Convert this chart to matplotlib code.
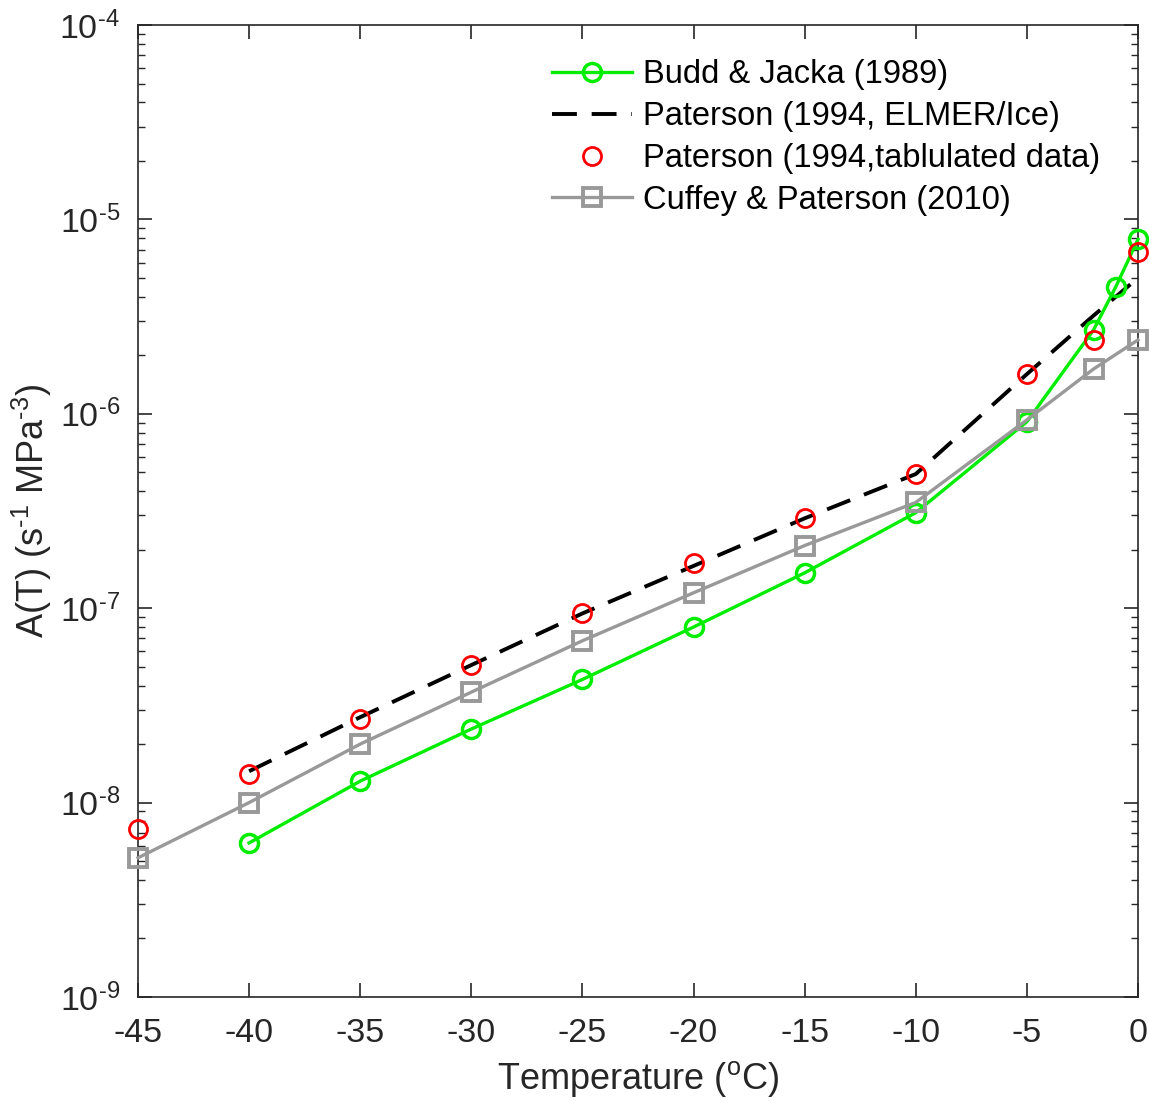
import matplotlib
matplotlib.use("Agg")
import matplotlib.pyplot as plt
from matplotlib.ticker import LogLocator, FixedLocator

plt.rcParams['font.family'] = ['Liberation Sans', 'DejaVu Sans']
plt.rcParams['mathtext.fontset'] = 'custom'
plt.rcParams['mathtext.rm'] = 'Liberation Sans'
plt.rcParams['mathtext.default'] = 'regular'

# Budd & Jacka (1989)
bj_temp = [-40, -35, -30, -25, -20, -15, -10, -5, -2, -1, 0]
bj_A = [6.2e-9, 1.29e-8, 2.39e-8, 4.3e-8, 8.0e-8, 1.52e-7, 3.1e-7, 9.1e-7, 2.7e-6, 4.5e-6, 7.9e-6]

# Paterson (1994, ELMER/Ice)
el_temp = [-40, -35, -30, -25, -20, -15, -10, -5, -2, 0]
el_A = [1.45e-8, 2.75e-8, 5.1e-8, 9.4e-8, 1.65e-7, 2.9e-7, 4.9e-7, 1.6e-6, 3.2e-6, 5.0e-6]

# Paterson (1994, tabulated data)
pt_temp = [-45, -40, -35, -30, -25, -20, -15, -10, -5, -2, 0]
pt_A = [7.3e-9, 1.4e-8, 2.7e-8, 5.1e-8, 9.4e-8, 1.7e-7, 2.9e-7, 4.9e-7, 1.6e-6, 2.4e-6, 6.8e-6]

# Cuffey & Paterson (2010)
cp_temp = [-45, -40, -35, -30, -25, -20, -15, -10, -5, -2, 0]
cp_A = [5.2e-9, 1.0e-8, 2.0e-8, 3.7e-8, 6.8e-8, 1.2e-7, 2.1e-7, 3.5e-7, 9.3e-7, 1.7e-6, 2.4e-6]

xticks = [-45, -40, -35, -30, -25, -20, -15, -10, -5, 0]
yticks = [1e-9, 1e-8, 1e-7, 1e-6, 1e-5, 1e-4]
yexp = [-9, -8, -7, -6, -5, -4]

axcol = '#262626'
fig = plt.figure(figsize=(11.49, 11.03), dpi=100)
ax = fig.add_axes([138/1149, 1-997/1103, 1000/1149, 972/1103])

ax.semilogy(bj_temp, bj_A, '-o', color=(0, 0.93, 0), lw=2.4, ms=13, mew=2.5,
            mfc='none', label='Budd & Jacka (1989)', zorder=3, clip_on=False)
ax.semilogy(el_temp, el_A, '--', color='k', lw=2.8, dashes=(6.4, 3.8),
            label='Paterson (1994, ELMER/Ice)', zorder=2, clip_on=False)
ax.semilogy(pt_temp, pt_A, 'o', color='red', ms=13, mew=2.0, mfc='none',
            label='Paterson (1994,tablulated data)', zorder=4, clip_on=False)
ax.semilogy(cp_temp, cp_A, '-s', color=(0.6, 0.6, 0.6), lw=2.4, ms=13, mew=2.8,
            mfc='none', label='Cuffey & Paterson (2010)', zorder=3, clip_on=False)

ax.set_xlim(-45, 0)
ax.set_ylim(1e-9, 1e-4)
ax.xaxis.set_major_locator(FixedLocator(xticks))
ax.set_xticklabels([str(t) for t in xticks])
ax.set_yticks(yticks)
ax.set_yticklabels([r'$10^{\text{-}%d}$' % abs(e) for e in yexp], fontsize=26)
ax.yaxis.set_minor_locator(LogLocator(base=10, subs=range(2, 10), numticks=20))
ax.yaxis.set_minor_formatter(plt.NullFormatter())

ax.tick_params(which='both', direction='in', top=True, right=True, colors=axcol,
               labelsize=24.5, labelcolor=axcol)
ax.tick_params(axis='x', which='major', length=10, width=1.2, pad=15)
ax.tick_params(axis='y', which='major', length=10, width=1.2, pad=13)
ax.tick_params(which='minor', length=5, width=1.0)
for s in ax.spines.values():
    s.set_color(axcol)
    s.set_linewidth(1.2)

ax.set_xlabel(r'Temperature ($^{o}$C)', fontsize=26, color=axcol, labelpad=7)
ax.set_ylabel(r'A(T) (s$^{\text{-}1}$ MPa$^{\text{-}3}$)', fontsize=26, color=axcol, labelpad=4)

leg = ax.legend(loc='upper left', bbox_to_anchor=(0.401, 0.978), borderaxespad=0,
                frameon=False, fontsize=23.5, handlelength=2.45, handletextpad=0.34,
                labelspacing=0.33)

fig.savefig('out.png', dpi=100)
